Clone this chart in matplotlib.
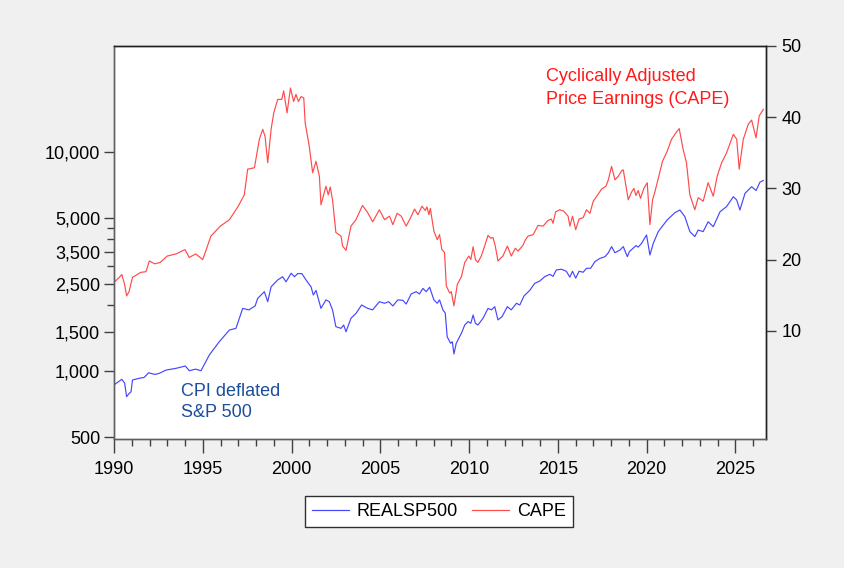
import matplotlib
matplotlib.use("Agg")
import matplotlib.pyplot as plt
from matplotlib.ticker import FixedLocator, NullFormatter, FixedFormatter, MultipleLocator

plt.rcParams['font.family'] = ['Liberation Sans', 'DejaVu Sans']

# ---- data ----
cape_years = [1990.0, 1990.3, 1990.44, 1990.6, 1990.71, 1990.85, 1991.04, 1991.3, 1991.5, 1991.8,
              1991.99, 1992.3, 1992.6, 1993.0, 1993.5, 1994.0, 1994.24, 1994.6, 1995.0, 1995.46,
              1995.99, 1996.5, 1997.0, 1997.34, 1997.53, 1997.91, 1998.19, 1998.38, 1998.51, 1998.66,
              1998.85, 1999.0, 1999.22, 1999.45, 1999.56, 1999.75, 1999.94, 2000.12, 2000.25, 2000.39,
              2000.54, 2000.69, 2000.77, 2001.0, 2001.19, 2001.38, 2001.57, 2001.66, 2001.94, 2002.07,
              2002.18, 2002.31, 2002.5, 2002.79, 2002.88, 2003.07, 2003.35, 2003.63, 2004.0, 2004.29,
              2004.57, 2004.95,
              2005.24, 2005.52, 2005.71, 2005.95, 2006.18, 2006.46, 2006.71, 2006.93, 2007.12, 2007.35,
              2007.53, 2007.63, 2007.74, 2007.82, 2008.02, 2008.21, 2008.34, 2008.47, 2008.62, 2008.72,
              2008.91, 2009.0, 2009.15, 2009.34, 2009.57, 2009.76, 2009.99, 2010.1, 2010.23, 2010.36,
              2010.5, 2010.69, 2010.88, 2011.07, 2011.22, 2011.35, 2011.48, 2011.63, 2011.78, 2011.91,
              2012.16, 2012.38, 2012.61, 2012.76, 2013.04, 2013.14, 2013.32, 2013.61, 2013.89, 2014.17,
              2014.45, 2014.64, 2014.73, 2014.88, 2015.11, 2015.34, 2015.58, 2015.68, 2015.83, 2016.01,
              2016.2, 2016.43, 2016.62, 2016.81, 2017.0, 2017.22, 2017.47, 2017.71, 2017.85, 2018.03,
              2018.22, 2018.41, 2018.6, 2018.69, 2018.84, 2018.97, 2019.16, 2019.29, 2019.4, 2019.53,
              2019.66, 2019.85, 2020.04, 2020.19, 2020.34, 2020.47, 2020.66,
              2020.9, 2021.16, 2021.41, 2021.65, 2021.84, 2022.06, 2022.25, 2022.44,
              2022.72, 2022.91, 2023.19, 2023.47, 2023.76, 2023.98, 2024.23, 2024.51, 2024.89, 2025.08,
              2025.22, 2025.45, 2025.73, 2025.92, 2026.17, 2026.35, 2026.58]
cape_values = [16.8, 17.5, 17.9, 16.5, 14.9, 15.5, 17.5, 17.9, 18.2, 18.3,
               19.8, 19.4, 19.6, 20.5, 20.8, 21.4, 20.3, 20.8, 20.0, 23.3,
               24.7, 25.6, 27.5, 29.1, 32.7, 32.9, 36.9, 38.3, 37.3, 33.6,
               38.3, 40.6, 42.5, 42.5, 43.7, 40.6, 44.1, 42.2, 43.2, 42.2,
               42.9, 42.7, 39.2, 35.9, 32.2, 33.8, 31.7, 27.7, 30.3, 29.1,
               30.2, 28.4, 23.8, 23.3, 21.9, 21.3, 24.7, 25.6, 27.6, 26.6,
               25.3, 27.0,
               25.6, 26.1, 24.9, 26.5, 26.1, 24.7, 25.9, 27.1, 26.3, 27.5,
               26.9, 27.4, 26.3, 27.2, 24.0, 22.8, 23.5, 21.4, 21.0, 16.3,
               15.3, 15.5, 13.5, 16.5, 17.6, 19.6, 20.5, 20.0, 21.8, 20.0,
               19.6, 20.5, 21.9, 23.4, 23.0, 23.1, 21.9, 19.8, 20.2, 20.5,
               21.9, 20.5, 21.6, 21.2, 22.0, 22.6, 23.3, 23.5, 24.8, 24.7,
               25.5, 25.7, 25.1, 26.7, 27.0, 26.8, 26.1, 24.7, 26.1, 24.2,
               25.7, 25.9, 27.0, 26.5, 28.2, 29.0, 29.9, 30.3, 31.2, 33.1,
               31.2, 31.7, 32.5, 32.6, 30.3, 28.4, 29.5, 30.0, 29.0, 29.7,
               28.6, 30.0, 30.8, 24.9, 28.4, 29.5, 31.4,
               33.8, 35.2, 36.9, 37.8, 38.4, 35.5, 33.6, 29.1,
               27.0, 28.7, 28.2, 30.8, 28.9, 31.7, 33.6, 35.0, 37.6, 36.9,
               32.7, 36.9, 39.0, 39.6, 37.1, 40.2, 41.1]

sp_years = [1990.0, 1990.44, 1990.6, 1990.71, 1990.85, 1990.96, 1991.04, 1991.4, 1991.7, 1991.95,
            1992.3, 1992.55, 1992.93, 1993.5, 1994.02, 1994.24, 1994.6, 1994.9, 1995.37, 1995.93,
            1996.5, 1996.87, 1997.25, 1997.6, 1997.95, 1998.09, 1998.47, 1998.66, 1998.85, 1999.22,
            1999.5, 1999.69, 1999.98, 2000.17, 2000.35, 2000.58, 2000.82, 2001.1, 2001.23, 2001.38,
            2001.66, 2001.94, 2002.13, 2002.31, 2002.5, 2002.79, 2002.94, 2003.07, 2003.35, 2003.63,
            2003.95, 2004.29, 2004.57, 2004.95,
            2005.24, 2005.47, 2005.71, 2005.99, 2006.27, 2006.46, 2006.74, 2007.02, 2007.21, 2007.4,
            2007.59, 2007.78, 2008.02, 2008.21, 2008.34, 2008.53, 2008.66, 2008.77, 2008.96, 2009.06,
            2009.15, 2009.28, 2009.57, 2009.76, 2009.95, 2010.1, 2010.23, 2010.36, 2010.5, 2010.79,
            2011.07, 2011.26, 2011.45, 2011.63, 2011.86, 2012.16, 2012.38, 2012.67, 2012.86, 2013.1,
            2013.42, 2013.7, 2013.98, 2014.26, 2014.55, 2014.73, 2014.92, 2015.2, 2015.48, 2015.68,
            2015.83, 2016.01, 2016.2, 2016.43, 2016.62, 2016.85, 2017.09, 2017.37, 2017.66, 2017.85,
            2018.03, 2018.22, 2018.5, 2018.69, 2018.92, 2019.03, 2019.25, 2019.4, 2019.53, 2019.72,
            2020.0, 2020.19, 2020.38, 2020.66,
            2021.16, 2021.6, 2021.88, 2022.16, 2022.44, 2022.72, 2022.91, 2023.19, 2023.47, 2023.76,
            2024.14, 2024.51, 2024.89, 2025.08, 2025.26, 2025.55, 2025.92, 2026.17, 2026.39, 2026.58]
sp_values = [864, 917, 880, 764, 790, 804, 910, 926, 935, 982,
             965, 976, 1010, 1029, 1054, 1003, 1020, 1003, 1183, 1360,
             1538, 1565, 1930, 1900, 1980, 2140, 2300, 2070, 2420, 2600,
             2690, 2550, 2790, 2690, 2780, 2780, 2600, 2420, 2220, 2330,
             1930, 2110, 2070, 1900, 1593, 1565, 1620, 1510, 1740, 1830,
             2000, 1930, 1900, 2070,
             2036, 2070, 1980, 2110, 2100, 2020, 2245, 2300, 2245, 2380,
             2300, 2410, 2110, 2036, 2110, 1897, 1840, 1433, 1338, 1360,
             1196, 1338, 1486, 1621, 1680, 1650, 1800, 1650, 1621, 1740,
             1930, 1900, 1965, 1710, 1770, 1965, 1900, 2036, 2000, 2200,
             2330, 2510, 2570, 2690, 2760, 2700, 2890, 2910, 2850, 2680,
             2850, 2650, 2850, 2820, 2940, 2940, 3150, 3260, 3320, 3460,
             3690, 3460, 3560, 3690, 3320, 3500, 3630, 3730, 3670, 3820,
             4170, 3380, 3820, 4320,
             4880, 5270, 5420, 5050, 4320, 4100, 4390, 4320, 4790, 4550,
             5320, 5620, 6230, 6020, 5420, 6460, 6920, 6650, 7260, 7380]

left_ticks = [500, 1000, 1500, 2000, 2500, 3000, 3500, 4000, 4500, 5000, 10000]
left_labels = ["500", "1,000", "1,500", "", "2,500", "", "3,500", "", "", "5,000", "10,000"]
right_ticks = [10, 20, 30, 40, 50]
x_major = [1990, 1995, 2000, 2005, 2010, 2015, 2020, 2025]

# ---- figure ----
W, H = 845, 568
bg = '#f0f0f0'
fig = plt.figure(figsize=(W / 100, H / 100), dpi=100, facecolor=bg)
ax = fig.add_axes([114 / W, 1 - 439 / H, (766 - 114) / W, (439 - 46) / H])
ax.set_facecolor('white')
ax2 = ax.twinx()

blue = '#4646ff'
red = '#ff4a4a'
l1, = ax.plot(sp_years, sp_values, color=blue, lw=0.85, label='REALSP500')
l2, = ax2.plot(cape_years, cape_values, color=red, lw=0.85, label='CAPE')

ax.set_yscale('log')
ax.set_ylim(490, 30300)
ax.yaxis.set_major_locator(FixedLocator(left_ticks))
ax.yaxis.set_major_formatter(FixedFormatter(left_labels))
ax.yaxis.set_minor_locator(FixedLocator([]))
ax.yaxis.set_minor_formatter(NullFormatter())

ax2.set_ylim(-5.2, 50)
ax2.yaxis.set_major_locator(FixedLocator(right_ticks))

ax.set_xlim(1990, 2026.73)
ax.xaxis.set_major_locator(FixedLocator(x_major))
ax.xaxis.set_minor_locator(MultipleLocator(1))

for a in (ax, ax2):
    for s in a.spines.values():
        s.set_color('#202020')
        s.set_linewidth(1.0)
ax2.spines['left'].set_color('#606060')
ax2.spines['bottom'].set_color('#606060')
ax.spines['left'].set_color('#606060')
ax.spines['bottom'].set_color('#606060')

fs = 13
ax.tick_params(axis='x', which='major', direction='out', length=10, width=1,
               color='#404040', labelsize=fs, pad=6)
ax.tick_params(axis='x', which='minor', direction='out', length=5, width=1, color='#404040')
ax.tick_params(axis='y', which='major', direction='out', length=7, width=1,
               color='#404040', labelsize=fs, pad=3)
ax2.tick_params(axis='y', which='major', direction='out', length=7, width=1,
                color='#404040', labelsize=fs, pad=4)
for t, lab in zip(ax.yaxis.get_major_ticks(), left_labels):
    if lab == "":
        t.tick1line.set_markersize(5)

fig.text(181 / W, 1 - 402 / H, "CPI deflated\nS&P 500",
         color='#1c4e9c', fontsize=fs, ha='left', va='center', linespacing=1.3)
fig.text(546 / W, 1 - 88 / H, "Cyclically Adjusted\nPrice Earnings (CAPE)",
         color='#ff1a1a', fontsize=fs, ha='left', va='center', linespacing=1.4)

leg = fig.legend(handles=[l1, l2], loc='center', bbox_to_anchor=(439 / W, 1 - 511.5 / H),
                 ncol=2, frameon=True, fancybox=False, fontsize=fs,
                 handlelength=2.0, columnspacing=0.8, borderpad=0.4, handletextpad=0.45,
                 edgecolor='#303030', facecolor='white', framealpha=1.0)
leg.get_frame().set_linewidth(1.0)

fig.savefig('out.png', dpi=100, facecolor=bg)
